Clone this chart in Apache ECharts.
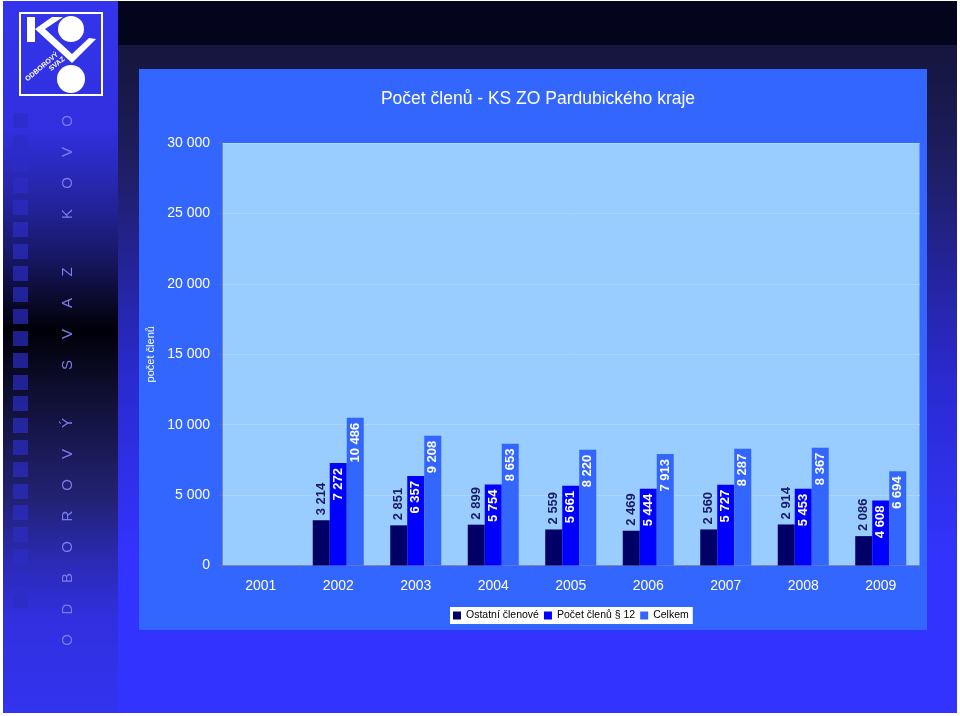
<!DOCTYPE html>
<html><head><meta charset="utf-8">
<script src="https://cdn.jsdelivr.net/npm/echarts@6/dist/echarts.min.js"></script>
<style>html,body{margin:0;padding:0;background:#ffffff}#c{width:960px;height:716px}</style>
</head><body><div id="c"></div>
<script>
const years = ['2001', '2002', '2003', '2004', '2005', '2006', '2007', '2008', '2009'];
const ostatniClenove = [null, 3214, 2851, 2899, 2559, 2469, 2560, 2914, 2086];
const pocetClenu12 = [null, 7272, 6357, 5754, 5661, 5444, 5727, 5453, 4608];
const celkem = [null, 10486, 9208, 8653, 8220, 7913, 8287, 8367, 6694];
const seriesNames = ['Ostatní členové', 'Počet členů § 12', 'Celkem'];
const titleText = 'Počet členů - KS ZO Pardubického kraje';
const yAxisName = 'počet členů';
const sideText = 'ODBOROVÝ SVAZ KOVO';

const fmt = v => (v == null ? '' : String(v).replace(/\B(?=(\d{3})+(?!\d))/g, ' '));
const FONT = "'Liberation Sans', Arial, sans-serif";

const chart = echarts.init(document.getElementById('c'), null, {renderer: 'canvas'});
const LG = echarts.graphic.LinearGradient;

const g = [];
// slide background
g.push({type: 'rect', z: -20, shape: {x: 3, y: 1, width: 954, height: 712},
  style: {fill: new LG(0, 0, 0, 1, [
    {offset: 0, color: '#141434'}, {offset: 0.127, color: '#18184a'}, {offset: 0.232, color: '#1e1e64'},
    {offset: 0.382, color: '#24249c'}, {offset: 0.531, color: '#2a2ad0'}, {offset: 0.681, color: '#3030ec'},
    {offset: 0.786, color: '#3333ff'}, {offset: 1, color: '#3333ff'}])}});
// top dark band
g.push({type: 'rect', z: -19, shape: {x: 118, y: 1, width: 839, height: 44}, style: {fill: '#04041c'}});
// left strip
g.push({type: 'rect', z: -19, shape: {x: 3, y: 1, width: 115, height: 712},
  style: {fill: new LG(0, 0, 0, 1, [
    {offset: 0, color: '#3434ec'}, {offset: 0.18, color: '#3030e0'}, {offset: 0.28, color: '#2424a0'},
    {offset: 0.365, color: '#161660'}, {offset: 0.42, color: '#0a0a2c'}, {offset: 0.463, color: '#000008'},
    {offset: 0.547, color: '#0e0e30'}, {offset: 0.617, color: '#181850'}, {offset: 0.70, color: '#222274'},
    {offset: 0.785, color: '#2a2ab4'}, {offset: 0.87, color: '#3030e0'}, {offset: 1, color: '#3333f0'}])}});
// squares
for (let y = 113; y < 600; y += 21.8) {
  g.push({type: 'rect', z: -18, shape: {x: 13, y: Math.round(y), width: 15, height: 15},
    style: {fill: '#2c2cc4', opacity: 0.7}});
}
// vertical letters
{
  let y = 640;
  for (const ch of sideText) {
    if (ch === ' ') { y -= 27; continue; }
    g.push({type: 'text', z: -17, x: 68, y: y, rotation: Math.PI / 2,
      style: {text: ch, fill: '#7c7cf0', font: '15px ' + FONT, align: 'center', verticalAlign: 'middle',
        textAlign: 'center', textVerticalAlign: 'middle'}});
    y -= 31;
  }
}
// logo
g.push({type: 'rect', z: -17, shape: {x: 20, y: 13, width: 82, height: 82}, style: {fill: 'none', stroke: '#ffffff', lineWidth: 2}});
g.push({type: 'rect', z: -17, shape: {x: 27, y: 17, width: 8, height: 25}, style: {fill: '#ffffff'}});
g.push({type: 'polygon', z: -17, shape: {points: [[35, 29], [52, 17], [63, 17], [45, 29], [72, 54], [89, 38], [96, 39], [72, 63]]}, style: {fill: '#ffffff'}});
g.push({type: 'circle', z: -17, shape: {cx: 71, cy: 29, r: 13}, style: {fill: '#ffffff'}});
g.push({type: 'circle', z: -17, shape: {cx: 71, cy: 79, r: 14}, style: {fill: '#ffffff'}});
g.push({type: 'text', z: -17, x: 42, y: 67, rotation: 40 * Math.PI / 180,
  style: {text: 'ODBOROVÝ', fill: '#ffffff', font: 'bold 7px ' + FONT, align: 'center', verticalAlign: 'middle', textAlign: 'center', textVerticalAlign: 'middle'}});
g.push({type: 'text', z: -17, x: 57, y: 64, rotation: 40 * Math.PI / 180,
  style: {text: 'SVAZ', fill: '#ffffff', font: 'bold 7px ' + FONT, align: 'center', verticalAlign: 'middle', textAlign: 'center', textVerticalAlign: 'middle'}});
// chart panel
g.push({type: 'rect', z: -16, shape: {x: 139, y: 69, width: 788, height: 561}, style: {fill: '#3366ff'}});

const insideLabel = {
  show: true, position: 'insideTop', rotate: 90, align: 'right', verticalAlign: 'middle', distance: 5,
  color: '#ffffff', fontWeight: 'bold', fontSize: 13, fontFamily: FONT, formatter: p => fmt(p.value)
};

chart.setOption({
  animation: false,
  graphic: {elements: g},
  title: {
    text: titleText, left: 533, top: 85, textAlign: 'center',
    textStyle: {color: '#ffffff', fontSize: 17.5, fontWeight: 'normal', fontFamily: FONT}
  },
  legend: {
    data: seriesNames, left: 450, top: 607, padding: [3, 4, 3, 3], itemGap: 5,
    itemWidth: 8, itemHeight: 8, icon: 'rect', backgroundColor: '#ffffff', borderRadius: 0,
    textStyle: {color: '#000000', fontSize: 10.5, fontFamily: FONT}
  },
  grid: {left: 222, right: 40.5, top: 143, bottom: 150.5, show: true, backgroundColor: '#99ccff', borderWidth: 0},
  xAxis: {
    type: 'category', data: years,
    axisLine: {show: true, lineStyle: {color: '#7a88b0', width: 1}},
    axisTick: {show: true, length: 4, lineStyle: {color: '#6070a0'}},
    axisLabel: {color: '#ffffff', fontSize: 14, fontFamily: FONT, margin: 14}
  },
  yAxis: {
    type: 'value', min: 0, max: 30000, interval: 5000,
    name: yAxisName, nameLocation: 'middle', nameGap: 65,
    nameTextStyle: {color: '#ffffff', fontSize: 11, fontFamily: FONT},
    axisLine: {show: true, lineStyle: {color: '#7a88b0', width: 1}},
    axisTick: {show: true, length: 4, lineStyle: {color: '#6070a0'}},
    axisLabel: {color: '#ffffff', fontSize: 14, fontFamily: FONT, margin: 12, formatter: v => fmt(v)},
    splitLine: {show: true, lineStyle: {color: '#acd6ff', width: 1}}
  },
  series: [
    {name: seriesNames[0], type: 'bar', data: ostatniClenove, barWidth: 17, barGap: '0%',
      itemStyle: {color: '#000066'},
      label: {show: true, position: 'top', rotate: 90, align: 'left', verticalAlign: 'middle', distance: 5,
        color: '#1a1a66', fontWeight: 'bold', fontSize: 13, fontFamily: FONT, formatter: p => fmt(p.value)}},
    {name: seriesNames[1], type: 'bar', data: pocetClenu12, barWidth: 17, barGap: '0%',
      itemStyle: {color: '#0000ff'}, label: insideLabel},
    {name: seriesNames[2], type: 'bar', data: celkem, barWidth: 17, barGap: '0%',
      itemStyle: {color: '#3366ff'}, label: insideLabel}
  ]
});
</script>
</body></html>
